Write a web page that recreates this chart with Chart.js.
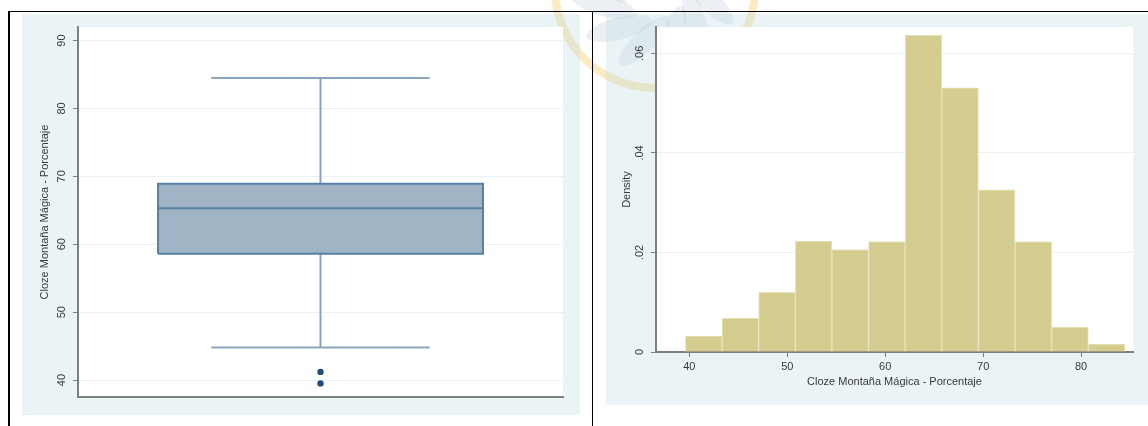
<!DOCTYPE html>
<html>
<head>
<meta charset="utf-8">
<script src="https://cdn.jsdelivr.net/npm/chart.js@4.4.1/dist/chart.umd.min.js"></script>
<style>
  html, body { margin: 0; padding: 0; background: #fff; }
  body { width: 1148px; height: 426px; position: relative; overflow: hidden; }
  #seal { position: absolute; left: 0; top: 0; }
  .panel { position: absolute; background: rgba(196, 220, 226, 0.35); }
  #boxWrap { left: 22px; top: 14px; width: 558px; height: 401px; }
  #histWrap { left: 606px; top: 14px; width: 542px; height: 391px; }
  .rule { position: absolute; background: #000; }
</style>
</head>
<body>
<canvas id="seal" width="1148" height="426"></canvas>
<div class="panel" id="boxWrap"><canvas id="boxChart"></canvas></div>
<div class="panel" id="histWrap"><canvas id="histChart"></canvas></div>
<div class="rule" style="left:8px; top:11px; width:1140px; height:1px;"></div>
<div class="rule" style="left:8px; top:11px; width:2px; height:415px;"></div>
<div class="rule" style="left:592px; top:11px; width:1px; height:415px;"></div>

<script>
// box plot summary: Q1, median, Q3 / whisker ends / points beyond whiskers
const boxQuartiles = [58.6, 65.3, 68.9];
const boxWhiskers = [44.8, 84.5];
const boxOutliers = [41.2, 39.5];
const boxTicks = [40, 50, 60, 70, 80, 90];

// histogram bin edges and densities
const histEdges = [39.60, 43.34, 47.08, 50.82, 54.56, 58.30, 62.04, 65.78, 69.52, 73.26, 77.00, 80.74, 84.48];
const histDensity = [0.0032, 0.0068, 0.0120, 0.0223, 0.0206, 0.0222, 0.0637, 0.0531, 0.0326, 0.0222, 0.0050, 0.0016];
const densityTicks = [0, 0.02, 0.04, 0.06];
const densityTickLabels = ['0', '.02', '.04', '.06'];
const scoreTicks = [40, 50, 60, 70, 80];

const scoreTitle = 'Cloze Montaña Mágica - Porcentaje';

const FONT = { family: "'Liberation Sans', Arial, sans-serif", size: 11 };
const TEXT = '#3a3a3a';
const AXIS = '#7f7f7f';
const GRID = '#eaf1f4';

// faint seal behind the top of the page
const seal = document.getElementById('seal').getContext('2d');
seal.save();
seal.translate(655, -12);
seal.globalAlpha = 0.2;
seal.fillStyle = '#9fb2ca';
for (let k = 0; k < 12; k++) {
    seal.save();
    seal.rotate(k * Math.PI / 6 + 0.2);
    seal.beginPath();
    seal.ellipse(54, 0, 34, 11, 0.6, 0, Math.PI * 2);
    seal.fill();
    seal.restore();
}
seal.globalAlpha = 0.35;
seal.strokeStyle = '#f2c84b';
seal.lineWidth = 8;
seal.beginPath();
seal.arc(0, 0, 100, 0, Math.PI * 2);
seal.stroke();
seal.restore();

// white plot region inside the tinted panel
const plotFill = {
    id: 'plotFill',
    beforeDraw(chart) {
        const { ctx, chartArea: a } = chart;
        ctx.save();
        ctx.fillStyle = '#fff';
        ctx.fillRect(a.left, a.top, a.right - a.left, a.bottom - a.top);
        ctx.restore();
    }
};

Chart.defaults.font = FONT;
Chart.defaults.color = TEXT;
Chart.defaults.animation = false;

// BOX PLOT
const BOX_HALF = 0.67;
const CAP_HALF = 0.45;
const boxFill = 'rgb(160, 180, 197)';
const boxEdge = 'rgb(88, 128, 164)';
const whiskerColor = 'rgb(140, 165, 190)';
const [q1, med, q3] = boxQuartiles;
const [lo, hi] = boxWhiskers;
const gap = { x: 0, y: null };

const lineBits = { pointRadius: 0, fill: false, spanGaps: false, tension: 0 };

new Chart(document.getElementById('boxChart'), {
    type: 'line',
    data: {
        datasets: [
            { ...lineBits, data: [{ x: -BOX_HALF, y: q3 }, { x: BOX_HALF, y: q3 }], borderWidth: 0, fill: '+1', backgroundColor: boxFill, order: 4 },
            { ...lineBits, data: [{ x: -BOX_HALF, y: q1 }, { x: BOX_HALF, y: q1 }], borderWidth: 0, order: 4 },
            { ...lineBits, data: [
                { x: 0, y: q3 }, { x: 0, y: hi }, gap,
                { x: -CAP_HALF, y: hi }, { x: CAP_HALF, y: hi }, gap,
                { x: 0, y: q1 }, { x: 0, y: lo }, gap,
                { x: -CAP_HALF, y: lo }, { x: CAP_HALF, y: lo }
              ], borderColor: whiskerColor, borderWidth: 2, order: 5 },
            { ...lineBits, data: [
                { x: -BOX_HALF, y: q1 }, { x: BOX_HALF, y: q1 }, { x: BOX_HALF, y: q3 },
                { x: -BOX_HALF, y: q3 }, { x: -BOX_HALF, y: q1 }
              ], borderColor: boxEdge, borderWidth: 2, order: 2 },
            { ...lineBits, data: [{ x: -BOX_HALF, y: med }, { x: BOX_HALF, y: med }], borderColor: boxEdge, borderWidth: 2, order: 1 },
            { type: 'scatter', data: boxOutliers.map(v => ({ x: 0, y: v })), pointRadius: 3.2, backgroundColor: 'rgb(30, 78, 121)', borderWidth: 0, order: 0 }
        ]
    },
    options: {
        responsive: true,
        maintainAspectRatio: false,
        layout: { padding: { top: 13, right: 17, bottom: 0, left: 0 } },
        plugins: { legend: { display: false }, tooltip: { enabled: false } },
        scales: {
            x: {
                type: 'linear',
                min: -1,
                max: 1,
                ticks: { display: false },
                grid: { display: false },
                border: { color: AXIS, width: 2 },
                afterFit: s => { s.height = 18; }
            },
            y: {
                min: 37.5,
                max: 92,
                afterBuildTicks: s => { s.ticks = boxTicks.map(v => ({ value: v })); },
                ticks: { minRotation: 90, maxRotation: 90, crossAlign: 'center', padding: 5, color: TEXT },
                grid: { color: GRID, tickColor: AXIS, tickLength: 5 },
                border: { color: AXIS, width: 2 },
                title: { display: true, text: scoreTitle, color: TEXT, padding: { top: 16, bottom: 0 } },
                afterFit: s => { s.width = 56; }
            }
        }
    },
    plugins: [plotFill]
});

// HISTOGRAM
const binCenters = histDensity.map((d, i) => ({ x: (histEdges[i] + histEdges[i + 1]) / 2, y: d }));

new Chart(document.getElementById('histChart'), {
    type: 'bar',
    data: {
        datasets: [{
            data: binCenters,
            backgroundColor: 'rgb(213, 204, 143)',
            borderColor: 'rgb(234, 229, 192)',
            borderWidth: 1,
            barPercentage: 1,
            categoryPercentage: 1
        }]
    },
    options: {
        responsive: true,
        maintainAspectRatio: false,
        layout: { padding: { top: 13, right: 15, bottom: 0, left: 0 } },
        plugins: { legend: { display: false }, tooltip: { enabled: false } },
        scales: {
            x: {
                type: 'linear',
                offset: false,
                min: 36.6,
                max: 85.3,
                afterBuildTicks: s => { s.ticks = scoreTicks.map(v => ({ value: v })); },
                ticks: { padding: 3, color: TEXT, maxRotation: 0 },
                grid: { offset: false, drawOnChartArea: false, tickColor: AXIS, tickLength: 5 },
                border: { color: AXIS, width: 2 },
                title: { display: true, text: scoreTitle, color: TEXT, padding: { top: 0, bottom: 16 } },
                afterFit: s => { s.height = 53; }
            },
            y: {
                min: 0,
                max: 0.0653,
                afterBuildTicks: s => { s.ticks = densityTicks.map(v => ({ value: v })); },
                ticks: {
                    minRotation: 90, maxRotation: 90, crossAlign: 'center', padding: 3, color: TEXT,
                    callback: (v, i) => densityTickLabels[i]
                },
                grid: { color: GRID, tickColor: AXIS, tickLength: 5 },
                border: { color: AXIS, width: 2 },
                title: { display: true, text: 'Density', color: TEXT, padding: { top: 14, bottom: 0 } },
                afterFit: s => { s.width = 50; }
            }
        }
    },
    plugins: [plotFill]
});
</script>
</body>
</html>
